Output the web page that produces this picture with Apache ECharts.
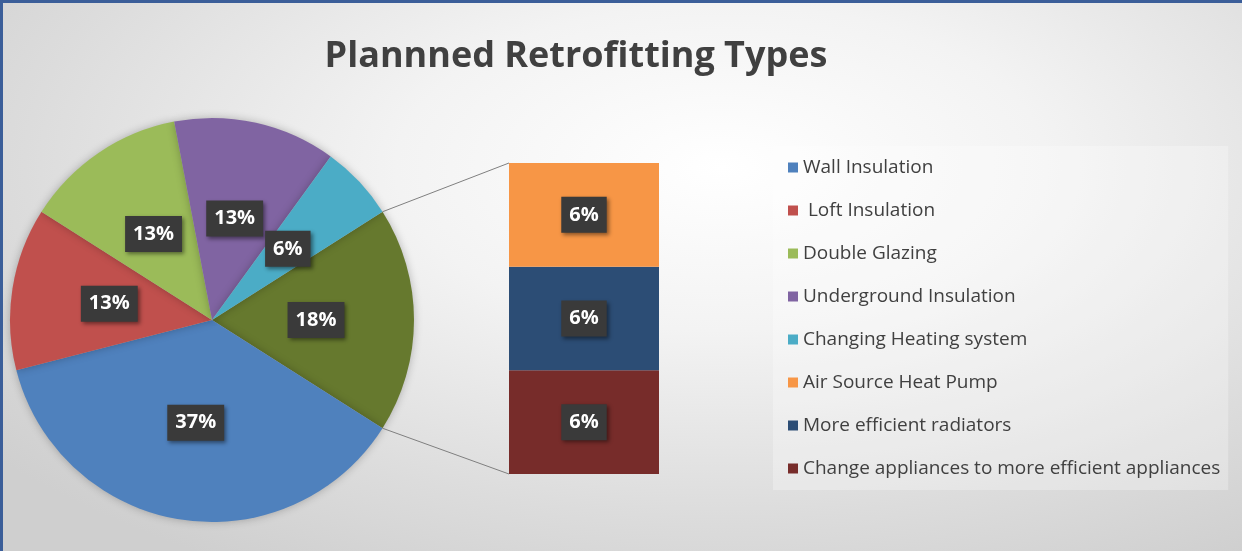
<!DOCTYPE html>
<html>
<head>
<meta charset="utf-8">
<script src="https://cdn.jsdelivr.net/npm/echarts@6/dist/echarts.min.js"></script>
<style>
html,body{margin:0;padding:0;}
#wrap{width:1242px;height:551px;box-sizing:border-box;border-top:3px solid #3b5e99;border-left:3px solid #3b5e99;
background:radial-gradient(ellipse 75% 85% at 58% 30%, #ffffff 0%, #f3f3f3 35%, #dcdcdc 75%, #cfcfcf 100%);}
#chart{width:1239px;height:548px;}
</style>
</head>
<body>
<div id="wrap"><div id="chart"></div></div>
<script>
// ---- data ----
const titleText = 'Plannned Retrofitting Types';
const pieNames = ['Wall Insulation', ' Loft Insulation', 'Double Glazing', 'Underground Insulation', 'Changing Heating system'];
const pieValues = [37, 13, 13, 13, 6];
const barNames = ['Air Source Heat Pump', 'More efficient radiators', 'Change appliances to more efficient appliances'];
const barValues = [6, 6, 6];
const otherName = 'Other';

// ---- styles ----
const pieColors = ['#4f81bd', '#c0504d', '#9bbb59', '#8064a2', '#4bacc6'];
const otherColor = '#66792e';
const barColors = ['#f79646', '#2c4d75', '#772c2a'];
const FONT = 'Open Sans';

const otherValue = barValues.reduce((a, b) => a + b, 0);
const total = pieValues.reduce((a, b) => a + b, 0) + otherValue;
const startAngle = otherValue / total * 360 / 2;

const labelStyle = {
  show: true, position: 'inside', color: '#ffffff', fontFamily: FONT, fontWeight: 'bold', fontSize: 20,
  backgroundColor: '#3a3a3a', padding: [9, 8, 7, 8],
  shadowColor: 'rgba(0,0,0,0.45)', shadowBlur: 4, shadowOffsetX: 2, shadowOffsetY: 2,
  formatter: p => p.value + '%'
};

const pieCenter = [209, 317];
const pieRadius = 202;

const pieData = [{ name: otherName, value: otherValue, itemStyle: { color: otherColor } }]
  .concat(pieNames.map((n, i) => ({ name: n, value: pieValues[i], itemStyle: { color: pieColors[i] } })));

const gridLeft = 506, gridTop = 160, gridW = 150, gridH = 311;

const series = [{
  type: 'pie', radius: pieRadius, center: pieCenter, startAngle: startAngle, clockwise: true,
  data: pieData, label: labelStyle, labelLine: { show: false }, silent: true,
  itemStyle: { borderWidth: 0, shadowColor: 'rgba(0,0,0,0.25)', shadowBlur: 8 }
}];
for (let i = barNames.length - 1; i >= 0; i--) {
  series.push({
    type: 'bar', name: barNames[i], stack: 'other', data: [barValues[i]], barWidth: '100%',
    itemStyle: { color: barColors[i] }, label: labelStyle, silent: true
  });
}

const chart = echarts.init(document.getElementById('chart'), null, { renderer: 'canvas' });
chart.setOption({
  animation: false,
  title: { text: titleText, left: 568, top: 31, textAlign: 'center',
    textStyle: { fontFamily: FONT, fontWeight: 'bold', fontSize: 36, color: '#404040' } },
  grid: { left: gridLeft, top: gridTop, width: gridW, height: gridH },
  xAxis: { type: 'category', data: [''], show: false },
  yAxis: { type: 'value', min: 0, max: otherValue, show: false },
  legend: {
    orient: 'vertical', left: 770, top: 143, itemGap: 24, itemWidth: 10, itemHeight: 10, icon: 'rect',
    data: pieNames.concat(barNames),
    textStyle: { fontFamily: FONT, fontSize: 19, color: '#404040' },
    backgroundColor: 'rgba(255,255,255,0.28)', padding: [12, 8, 12, 15]
  },
  series: series
});

// connector lines from the "other" slice edges to the bar corners
const a1 = startAngle * Math.PI / 180;
const p1 = [pieCenter[0] + pieRadius * Math.cos(a1), pieCenter[1] - pieRadius * Math.sin(a1)];
const p2 = [pieCenter[0] + pieRadius * Math.cos(-a1), pieCenter[1] - pieRadius * Math.sin(-a1)];
const barTop = chart.convertToPixel({ gridIndex: 0 }, [0, otherValue]);
const barBot = chart.convertToPixel({ gridIndex: 0 }, [0, 0]);
chart.setOption({
  graphic: [
    { type: 'line', shape: { x1: p1[0], y1: p1[1], x2: gridLeft, y2: barTop[1] }, style: { stroke: '#7f7f7f', lineWidth: 1 }, z: 10 },
    { type: 'line', shape: { x1: p2[0], y1: p2[1], x2: gridLeft, y2: barBot[1] }, style: { stroke: '#7f7f7f', lineWidth: 1 }, z: 10 }
  ]
});
</script>
</body>
</html>
